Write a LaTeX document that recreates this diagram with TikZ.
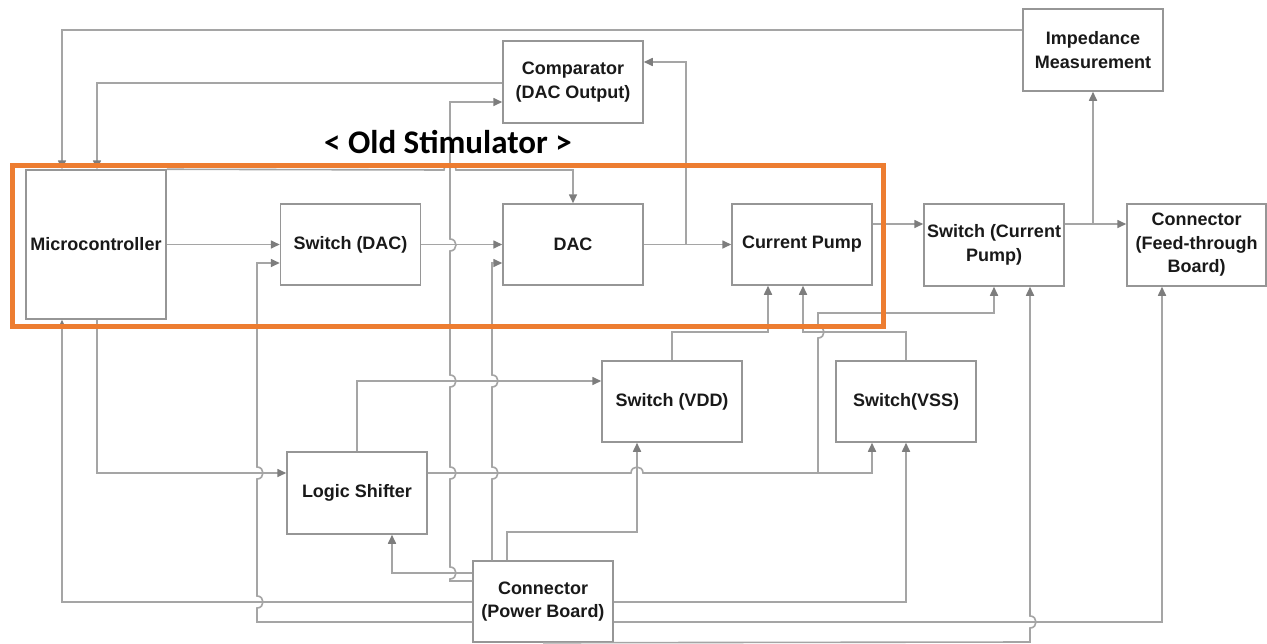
\documentclass[tikz,border=0pt]{standalone}
\usepackage{fontspec}
\setmainfont{Liberation Sans}
\newfontfamily\titlefont{Carlito}
\usetikzlibrary{arrows.meta}
\definecolor{linegray}{RGB}{165,165,165}
\definecolor{boxgray}{RGB}{150,150,150}
\definecolor{tipgray}{RGB}{125,125,125}
\definecolor{stimorange}{RGB}{237,125,49}
\begin{document}
\begin{tikzpicture}[x=1pt,y=-1pt,
  blk/.style={draw=boxgray, line width=1.5pt, minimum width=140pt, minimum height=81pt,
    inner sep=0pt, align=center, text=black!90,
    font=\fontsize{18}{23.5}\selectfont\bfseries},
  wire/.style={draw=linegray, line width=1.6pt},
  arr/.style={wire, -{Triangle[length=9pt,width=8pt,color=tipgray]}},
  ttl/.style={font=\titlefont\bfseries\fontsize{33}{40}\selectfont, anchor=base, inner sep=0pt}
]
\useasboundingbox (0,0) rectangle (1267,643);
\fill[white] (0,0) rectangle (1267,643);

% blocks
\node[blk, minimum height=149pt] (mc) at (96,244.5) {Microcontroller};
\node[blk] (swdac) at (350.5,244.5) {Switch (DAC)};
\node[blk] (dac) at (573,244.5) {DAC};
\node[blk] (cp) at (802,244.5) {Current Pump};
\node[blk, minimum height=82pt] (comp) at (573,82) {Comparator\\(DAC Output)};
\node[blk, minimum height=82pt] (imp) at (1093,50) {Impedance\\Measurement};
\node[blk, minimum height=82pt] (swcp) at (994,245) {Switch (Current\\Pump)};
\node[blk, minimum height=82pt, minimum width=139pt] (cft) at (1196.5,245) {Connector\\(Feed-through\\Board)};
\node[blk] (vdd) at (672,401.5) {Switch (VDD)};
\node[blk] (vss) at (906,401.5) {Switch(VSS)};
\node[blk, minimum height=82pt] (ls) at (357,493) {Logic Shifter};
\node[blk] (cpb) at (543,601.5) {Connector\\(Power Board)};

% connectors
\draw[arr] (imp.west |- 0,30) -| (mc.north -| 62,0);
\draw[arr] (comp.west |- 0,83) -| (mc.north -| 97,0);
\draw[arr] (mc.east) -- (swdac.west);
\draw[arr] (mc.north east) -- (444,170) .. controls (444,162) and (456,162) .. (456,170) -| (dac.north);
\draw[arr] (swdac.east) -- (dac.west);
\draw[arr] (cpb.west |- 0,581) -- (450,581) -- (450,579)
  .. controls (458,579) and (458,567) .. (450,567) -- (450,479)
  .. controls (458,479) and (458,467) .. (450,467) -- (450,387)
  .. controls (458,387) and (458,375) .. (450,375) -- (450,251)
  .. controls (458,251) and (458,239) .. (450,239) -- (450,102) -- (comp.west |- 0,102);
\draw[arr] (cpb.west |- 0,573) -| (ls.south -| 392,0);
\draw[arr] (dac.east) -- (cp.west);
\draw[arr] (dac.east -| 686,0) |- (comp.east |- 0,62);
\draw[arr] (cp.east |- 0,224) -- (swcp.west |- 0,224);
\draw[arr] (swcp.east |- 0,224) -- (cft.west |- 0,224);
\draw[arr] (imp.south |- 0,224) -- (imp.south);
\draw[arr] (cpb.west |- 0,602) -| (mc.south -| 62,0);
\draw[arr] (mc.south -| 97,0) |- (ls.west |- 0,473);
\draw[arr] (cpb.west |- 0,622) -- (257,622) -- (257,608)
  .. controls (265,608) and (265,596) .. (257,596) -- (257,479)
  .. controls (265,479) and (265,467) .. (257,467) -- (257,263) -- (swdac.west |- 0,263);
\draw[arr] (cpb.north -| 492,0) -- (492,479)
  .. controls (500,479) and (500,467) .. (492,467) -- (492,387)
  .. controls (500,387) and (500,375) .. (492,375) -- (492,263) -- (dac.west |- 0,263);
\draw[arr] (ls.north) |- (vdd.west |- 0,381);
\draw[arr] (ls.east |- 0,473) -- (631,473) .. controls (631,465) and (643,465) .. (643,473) -| (vss.south -| 872,0);
\draw[arr] (818,473) -- (818,338) .. controls (826,338) and (826,326) .. (818,326) -- (818,313) -| (swcp.south);
\draw[arr] (cpb.north -| 507,0) -- (507,532) -| (vdd.south -| 637,0);
\draw[arr] (vdd.north) -- (672,332) -| (cp.south -| 768,0);
\draw[arr] (vss.north) -- (906,332) -| (cp.south -| 803,0);
\draw[arr] (cpb.east |- 0,602) -| (vss.south);
\draw[arr] (cpb.east |- 0,622) -| (cft.south -| 1162,0);
\draw[arr] (cpb.south) -- (1030,642) -- (1030,628)
  .. controls (1038,628) and (1038,616) .. (1030,616) -- (swcp.south -| 1030,0);

% old stimulator frame
\draw[stimorange, line width=5pt] (12,165) rectangle (883,326);
\node[ttl] (title) at (448,153) {< Old Stimulator >};
\end{tikzpicture}
\end{document}
